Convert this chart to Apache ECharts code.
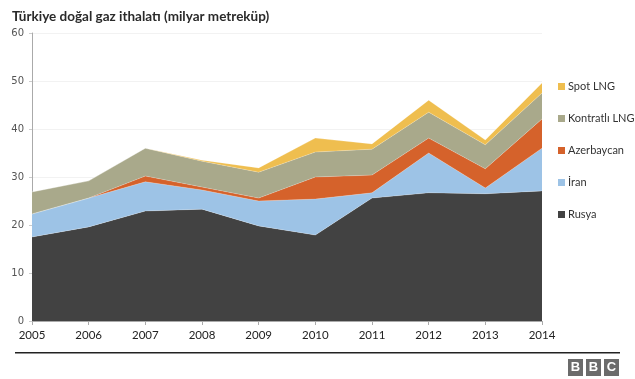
<!DOCTYPE html>
<html>
<head>
<meta charset="utf-8">
<script src="https://cdn.jsdelivr.net/npm/echarts@6/dist/echarts.min.js"></script>
<style>html,body{margin:0;padding:0;background:#fff}#c{width:635px;height:379px}</style>
</head>
<body>
<div id="c"></div>
<script>
const years = ['2005','2006','2007','2008','2009','2010','2011','2012','2013','2014'];
const rusya = [17.5, 19.6, 22.9, 23.3, 19.8, 17.9, 25.6, 26.7, 26.5, 27.1];
const iran = [4.8, 6.0, 6.1, 4.0, 5.2, 7.5, 1.1, 8.3, 1.2, 8.9];
const azerbaycan = [0, 0, 1.2, 0.6, 0.6, 4.6, 3.7, 3.1, 4.0, 6.1];
const kontratliLNG = [4.6, 3.6, 5.8, 5.4, 5.4, 5.2, 5.4, 5.4, 5.0, 5.4];
const spotLNG = [0, 0, 0, 0.2, 0.9, 2.9, 1.1, 2.5, 1.0, 2.1];
const yTicks = [0, 10, 20, 30, 40, 50, 60];

const names = ['Rusya', 'İran', 'Azerbaycan', 'Kontratlı LNG', 'Spot LNG'];
const values = [rusya, iran, azerbaycan, kontratliLNG, spotLNG];
const colors = ['#424242', '#9dc3e6', '#d5622b', '#a9a98b', '#efbe4f'];

const chart = echarts.init(document.getElementById('c'));
const font = 'Lato, "Open Sans", sans-serif';
chart.setOption({
  animation: false,
  title: {
    text: 'Türkiye doğal gaz ithalatı (milyar metreküp)',
    left: 7, top: 5,
    textStyle: { fontFamily: font, fontSize: 13.5, fontWeight: 'bold', color: '#2a2a2a' }
  },
  grid: { left: 32, right: 93, top: 33, bottom: 58 },
  legend: {
    orient: 'vertical',
    left: 553, top: 76,
    itemWidth: 7, itemHeight: 7, itemGap: 21,
    icon: 'rect',
    data: ['Spot LNG', 'Kontratlı LNG', 'Azerbaycan', 'İran', 'Rusya'],
    textStyle: { fontFamily: font, fontSize: 11, color: '#333', padding: [0, 0, 0, -2] }
  },
  xAxis: {
    type: 'category',
    data: years,
    boundaryGap: false,
    axisLine: { lineStyle: { color: '#aaa' } },
    axisTick: { show: true, length: 4, lineStyle: { color: '#aaa' } },
    axisLabel: { fontFamily: font, fontSize: 11.5, color: '#222', margin: 8 }
  },
  yAxis: {
    type: 'value',
    min: 0, max: 60, interval: 10,
    axisLine: { show: true, lineStyle: { color: '#aaa' } },
    axisTick: { show: true, length: 3, lineStyle: { color: '#ccc' } },
    axisLabel: { fontFamily: '"DejaVu Sans", sans-serif', fontSize: 10, color: '#555', margin: 8,
      formatter: v => yTicks.includes(v) ? String(v) : '' },
    splitLine: { lineStyle: { color: '#f2f2f2' } }
  },
  series: names.map((n, i) => ({
    name: n,
    type: 'line',
    stack: 'total',
    data: values[i],
    symbol: 'none',
    showSymbol: false,
    lineStyle: { width: 0.6, color: 'rgba(255,255,255,0.35)' },
    areaStyle: { color: colors[i], opacity: 1 },
    itemStyle: { color: colors[i] },
    z: 2
  })),
  graphic: [
    { type: 'rect', shape: { x: 15, y: 352, width: 605, height: 1.5 }, style: { fill: '#222' } },
    { type: 'rect', shape: { x: 568, y: 359, width: 15, height: 17 }, style: { fill: '#6b6b6b' } },
    { type: 'rect', shape: { x: 586, y: 359, width: 15, height: 17 }, style: { fill: '#6b6b6b' } },
    { type: 'rect', shape: { x: 604, y: 359, width: 15, height: 17 }, style: { fill: '#6b6b6b' } },
    { type: 'text', x: 575.5, y: 367.5, style: { text: 'B', fill: '#fff', font: 'bold 13px "Liberation Sans", sans-serif', align: 'center', verticalAlign: 'middle' } },
    { type: 'text', x: 593.5, y: 367.5, style: { text: 'B', fill: '#fff', font: 'bold 13px "Liberation Sans", sans-serif', align: 'center', verticalAlign: 'middle' } },
    { type: 'text', x: 611.5, y: 367.5, style: { text: 'C', fill: '#fff', font: 'bold 13px "Liberation Sans", sans-serif', align: 'center', verticalAlign: 'middle' } }
  ]
});
</script>
</body>
</html>
